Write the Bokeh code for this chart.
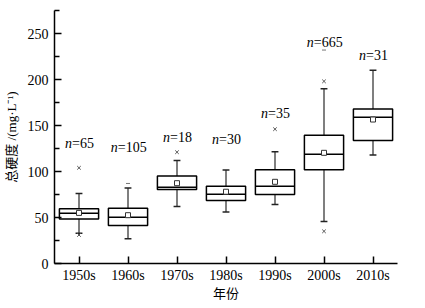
import numpy as np
from bokeh.plotting import figure
from bokeh.models import Range1d, FixedTicker
from bokeh.core.properties import value
from bokeh.embed import file_html
from bokeh.resources import INLINE

decades = ["1950s", "1960s", "1970s", "1980s", "1990s", "2000s", "2010s"]
q1 = [48.5, 41.3, 80.4, 68.5, 75.0, 102.0, 133.7]
median = [54.7, 50.4, 83.0, 75.4, 84.0, 118.8, 159.0]
q3 = [59.4, 60.0, 95.0, 84.0, 102.0, 139.5, 168.0]
whisk_lo = [33.0, 27.0, 62.0, 56.0, 64.0, 45.7, 118.0]
whisk_hi = [76.0, 82.0, 112.0, 101.5, 121.5, 190.0, 210.0]
mean = [55.0, 52.5, 87.3, 78.0, 88.8, 120.3, 156.5]
n_counts = [65, 105, 18, 30, 35, 665, 31]
label_y = [130, 126, 137, 135, 163, 240, 226]
# outliers (x markers): decade index, value
out_idx = [0, 0, 2, 4, 5, 5]
out_val = [104.0, 31.0, 121.0, 146.0, 198.0, 35.0]
# extremes (dash markers)
ext_idx = [1, 5]
ext_val = [87.0, 232.0]

xs = np.arange(len(decades)) + 0.5
SERIF = "Times New Roman"
CJK = "Times New Roman, Noto Sans CJK SC"

p = figure(frame_width=343, frame_height=253, output_backend="svg", toolbar_location=None,
           x_range=Range1d(0, 7), y_range=Range1d(0, 275),
           min_border_left=54, min_border_right=12, min_border_top=10, min_border_bottom=34)
p.outline_line_color = None
p.xgrid.visible = False
p.ygrid.visible = False
p.background_fill_color = "white"
p.border_fill_color = "white"

# whiskers
p.segment(x0=xs, y0=whisk_lo, x1=xs, y1=q1, line_color="#555555", line_width=1.5)
p.segment(x0=xs, y0=q3, x1=xs, y1=whisk_hi, line_color="#555555", line_width=1.5)
# caps
cw = 0.07
p.segment(x0=xs - cw, y0=whisk_lo, x1=xs + cw, y1=whisk_lo, line_color="#222222", line_width=1.5)
p.segment(x0=xs - cw, y0=whisk_hi, x1=xs + cw, y1=whisk_hi, line_color="#222222", line_width=1.5)
# boxes
p.quad(left=xs - 0.4, right=xs + 0.4, bottom=q1, top=q3,
       fill_color="white", line_color="black", line_width=1.5)
# medians
p.segment(x0=xs - 0.4, y0=median, x1=xs + 0.4, y1=median, line_color="black", line_width=1.5)
# means
p.scatter(x=xs, y=mean, marker="square", size=5, fill_color="white",
          line_color="#333333", line_width=1)
# outliers
p.scatter(x=xs[out_idx], y=out_val, marker="x", size=5, line_color="#555555", line_width=1)
p.scatter(x=xs[ext_idx], y=ext_val, marker="dash", size=4, line_color="#777777", line_width=1)

# n labels: italic "n" + "=NN"
fs = 13
rest = ["=%d" % n for n in n_counts]
offs = []
for r in rest:
    w_n = 0.5 * fs
    w_r = 0.564 * fs + 0.5 * fs * (len(r) - 1)
    W = w_n + w_r
    offs.append(-W / 2 + w_n)
p.text(x=xs, y=label_y, text=["n"] * len(xs), x_offset=offs, text_align="right",
       text_baseline="middle", text_font=value(SERIF), text_font_style="italic",
       text_font_size="14px", text_color="black")
p.text(x=xs, y=label_y, text=rest, x_offset=offs, text_align="left",
       text_baseline="middle", text_font=value(SERIF),
       text_font_size="14px", text_color="black")

# axes
p.xaxis.ticker = FixedTicker(ticks=list(xs))
p.xaxis.major_label_overrides = {float(x): d for x, d in zip(xs, decades)}
p.xaxis.minor_tick_line_color = None
p.yaxis.ticker = FixedTicker(ticks=[0, 50, 100, 150, 200, 250],
                             minor_ticks=[25, 75, 125, 175, 225, 275])
for ax in (p.xaxis, p.yaxis):
    ax.axis_line_width = 1.5
    ax.axis_line_color = "black"
    ax.major_tick_line_color = "black"
    ax.major_tick_line_width = 1.5
    ax.major_tick_in = 7
    ax.major_tick_out = 0
    ax.major_label_text_font = SERIF
    ax.major_label_text_font_size = "14px"
    ax.major_label_text_color = "black"
    ax.axis_label_text_font = CJK
    ax.axis_label_text_font_size = "13px"
    ax.axis_label_text_font_style = "normal"
    ax.axis_label_text_color = "black"
p.yaxis.minor_tick_in = 5
p.yaxis.minor_tick_out = 0
p.yaxis.minor_tick_line_color = "black"
p.yaxis.minor_tick_line_width = 1.5
p.xaxis.major_label_standoff = 4
p.yaxis.major_label_standoff = 6
p.xaxis.axis_label = "年份"
p.yaxis.axis_label = "总硬度 /(mg·L⁻¹)"
p.xaxis.axis_label_standoff = 0
p.yaxis.axis_label_standoff = 6

open("out.html", "w").write(file_html(p, INLINE))
